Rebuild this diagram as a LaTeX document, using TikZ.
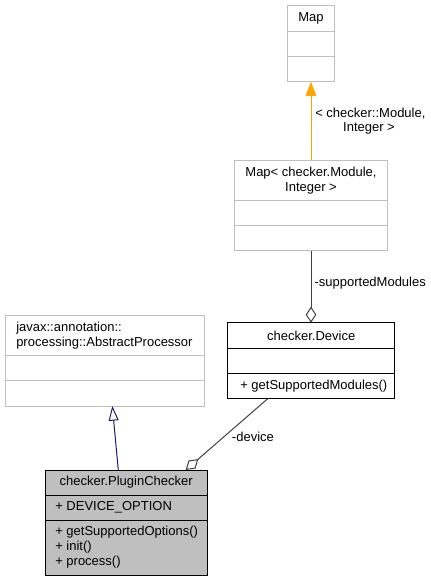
\documentclass[tikz,border=0pt]{standalone}
\usepackage{fontspec}
\setmainfont{Liberation Sans}
\usetikzlibrary{arrows.meta}
\definecolor{lgray}{HTML}{BFBFBF}
\definecolor{dgray}{HTML}{404040}
\definecolor{navy}{HTML}{191970}
\definecolor{orng}{HTML}{FFA500}
\begin{document}
\begin{tikzpicture}[x=0.75pt,y=-0.75pt,
  txt/.style={inner sep=0pt,font=\fontsize{9.75pt}{11.25pt}\selectfont,align=center},
  ltxt/.style={txt,anchor=west,align=left},
  lightbox/.style={draw=lgray,line width=0.75pt},
  darkbox/.style={draw=black,line width=0.75pt},
  conn/.style={draw=dgray,line width=0.75pt},
]
\useasboundingbox (0,0) rectangle (430,581);
% Map
\draw[lightbox] (287.7,5.7) rectangle (334.3,81.7);
\coordinate (mapbot) at (311,81.7);
\draw[lightbox] (287.7,31.3) -- (334.3,31.3) (287.7,56.7) -- (334.3,56.7);
\node[txt] (maptitle) at (311,18.5) {Map};
% Map< checker.Module, Integer >
\draw[lightbox] (234.3,160) rectangle (387.7,250.7);
\coordinate (mmtop) at (311,160);
\coordinate (mmbot) at (311,250.7);
\draw[lightbox] (234.3,200.7) -- (387.7,200.7) (234.3,225.7) -- (387.7,225.7);
\node[txt] (mmtitle) at (311,180.3) {Map< checker.Module,\\Integer >};
% Device
\draw[darkbox] (227.7,322.7) rectangle (394.7,398.7);
\coordinate (devtop) at (311,322.7);
\coordinate (devbot) at (267.7,398.7);
\draw[darkbox] (227.7,348.3) -- (394.7,348.3) (227.7,373.3) -- (394.7,373.3);
\node[txt] (devtitle) at (311.2,335.5) {checker.Device};
\node[ltxt] (devm) at (240,386) {+ getSupportedModules()};
% AbstractProcessor
\draw[lightbox] (5,315) rectangle (204,406);
\coordinate (apbot) at (112.3,406);
\draw[lightbox] (5,355.7) -- (204,355.7) (5,380.7) -- (204,380.7);
\node[ltxt] (aptitle) at (16,335.3) {javax::annotation::\\processing::AbstractProcessor};
% PluginChecker
\draw[darkbox,fill=lgray] (45,470) rectangle (207.3,575);
\coordinate (pctop) at (118.3,470);
\coordinate (pcdia) at (185.7,470);
\draw[darkbox] (45,495) -- (207.3,495) (45,520) -- (207.3,520);
\node[txt] (pctitle) at (126.2,482.5) {checker.PluginChecker};
\node[ltxt] (pca) at (55,507.5) {+ DEVICE\_OPTION};
\node[ltxt] (pcm) at (55,547.2) {+ getSupportedOptions()\\+ init()\\+ process()};
% connectors
\draw[draw=orng,line width=0.75pt,-{Triangle[length=10.7pt,width=8pt,fill=orng]}] (mmtop) -- (mapbot);
\node[ltxt] (lbl1) at (315,113.3) {< checker::Module,};
\node[txt] (lbl1b) at (369,128) {Integer >};
\draw[conn,{Diamond[open,length=12pt,width=8pt,fill=white]}-] (devtop) -- (mmbot);
\node[ltxt] (lbl2) at (314.3,282.7) {-supportedModules};
\draw[draw=navy,line width=0.75pt,-{Triangle[open,length=11pt,width=7.5pt,fill=white]}] (pctop) -- (apbot);
\draw[conn,{Diamond[open,length=12.5pt,width=8pt,fill=white]}-] (pcdia) -- (devbot);
\node[ltxt] (lbl3) at (231.7,436.7) {-device};
\end{tikzpicture}
\end{document}
